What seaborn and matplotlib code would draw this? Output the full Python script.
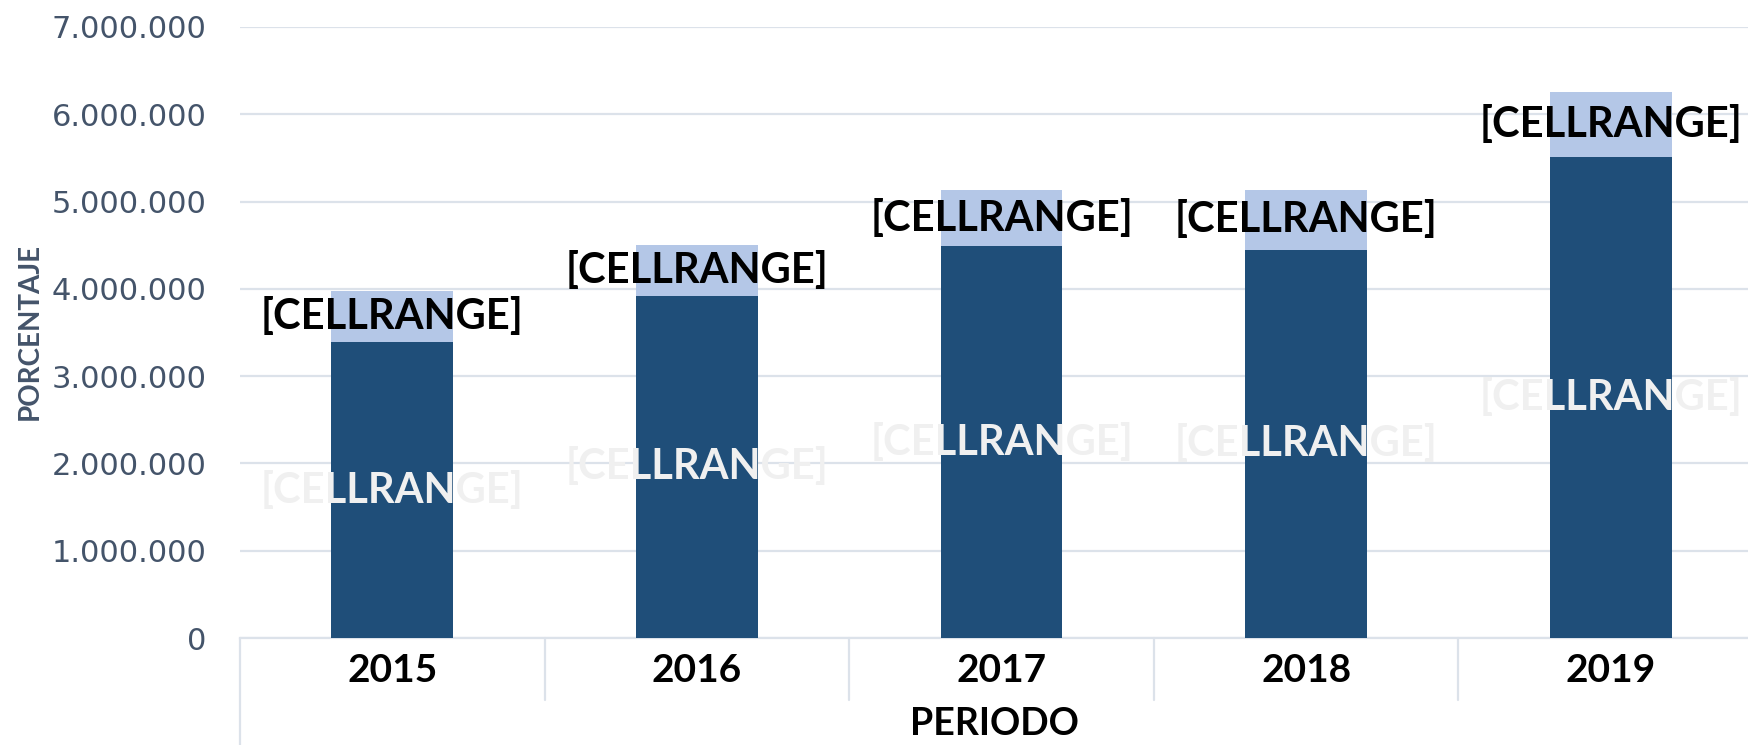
import matplotlib
matplotlib.use("Agg")
import matplotlib.pyplot as plt
import matplotlib.ticker as mticker
import seaborn as sns
import pandas as pd

# Datos
periodos = ["2015", "2016", "2017", "2018", "2019"]
base = [3390000, 3920000, 4490000, 4450000, 5510000]      # segmento oscuro
extra = [590000, 580000, 640000, 680000, 750000]          # segmento claro
etiqueta = "[CELLRANGE]"
yticks = [0, 1000000, 2000000, 3000000, 4000000, 5000000, 6000000, 7000000]

azul_oscuro = "#1F4E79"
azul_claro = "#B4C7E7"
gris_texto = "#44546A"
gris_linea = "#DCE2EA"

sns.set_theme(style="white")
plt.rcParams["font.family"] = ["Lato", "DejaVu Sans"]

df = pd.DataFrame({"periodo": periodos, "base": base, "extra": extra})
df["total"] = df["base"] + df["extra"]

fig = plt.figure(figsize=(17.48, 7.45), dpi=100)
ax = fig.add_axes([0.1373, 0.1436, 0.8713, 0.8202])

# barras apiladas: primero el total (claro), luego la base (oscuro)
sns.barplot(data=df, x="periodo", y="total", color=azul_claro, width=0.4,
            saturation=1, linewidth=0, ax=ax, zorder=2)
sns.barplot(data=df, x="periodo", y="base", color=azul_oscuro, width=0.4,
            saturation=1, linewidth=0, ax=ax, zorder=3)

# etiquetas
for i, row in df.iterrows():
    ax.text(i, row["base"] / 2, etiqueta, ha="center", va="center",
            fontsize=30, fontweight="bold", color="#F0F0F0", zorder=4)
    ax.text(i, row["base"] + row["extra"] / 2, etiqueta, ha="center", va="center",
            fontsize=30, fontweight="bold", color="black", zorder=4)

ax.set_xlim(-0.5, len(periodos) - 0.5)
ax.set_ylim(0, 7000000)
ax.set_yticks(yticks)
ax.yaxis.set_major_formatter(mticker.FuncFormatter(lambda v, p: f"{int(v):,}".replace(",", ".")))
ax.grid(axis="y", color=gris_linea, linewidth=1.6, zorder=0)
ax.set_axisbelow(True)

for s in ["top", "right", "left"]:
    ax.spines[s].set_visible(False)
ax.spines["bottom"].set_color(gris_linea)
ax.spines["bottom"].set_linewidth(1.6)

ax.tick_params(axis="y", length=0, pad=24, labelsize=22, labelcolor=gris_texto)
ax.tick_params(axis="x", length=0, pad=11, labelsize=28, labelcolor="black")
for t in ax.get_yticklabels():
    t.set_fontfamily("DejaVu Sans")
for t in ax.get_xticklabels():
    t.set_fontweight("bold")

# separadores de categorias bajo el eje
trans = ax.get_xaxis_transform()
for k in range(len(periodos)):
    x = k - 0.5
    fondo = -0.18 if k == 0 else -0.101
    ax.plot([x, x], [0, fondo], color=gris_linea, linewidth=1.6,
            transform=trans, clip_on=False)

ax.set_xlabel("")
ax.set_ylabel("")
fig.text(0.569, 0.006, "PERIODO", ha="center", va="bottom",
         fontsize=27, fontweight="bold", color="black")
fig.text(0.017, 0.555, "PORCENTAJE", rotation=90, ha="center", va="center",
         fontsize=20, fontweight="bold", color=gris_texto)

fig.savefig("out.png", dpi=100)
